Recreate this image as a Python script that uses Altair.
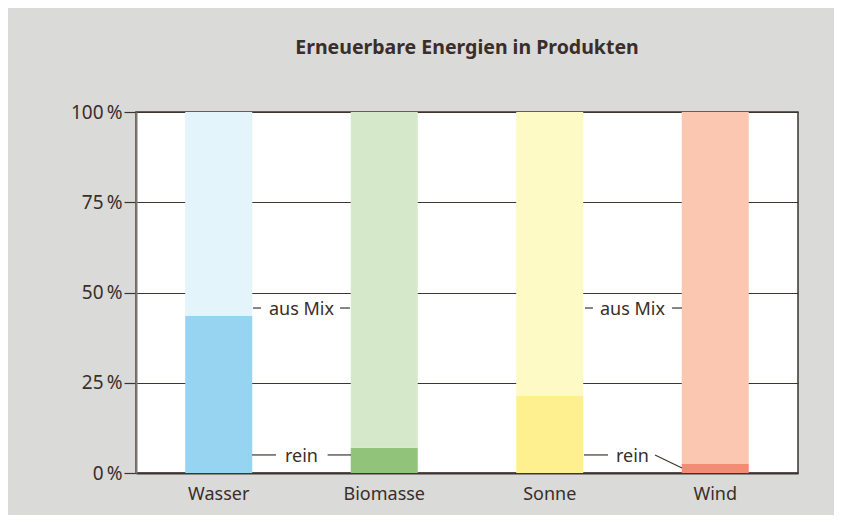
import altair as alt
import pandas as pd

categories = ["Wasser", "Biomasse", "Sonne", "Wind"]
rein = [43.5, 7.0, 21.5, 2.5]
color_rein = ["#97d4f1", "#91c47a", "#fef08e", "#f28c74"]
color_mix = ["#e4f4fb", "#d5e8c9", "#fefac6", "#fbc7b1"]

rows = []
for c, r, cr, cm in zip(categories, rein, color_rein, color_mix):
    rows.append({"cat": c, "part": "rein", "order": 0, "value": r, "color": cr})
    rows.append({"cat": c, "part": "aus Mix", "order": 1, "value": 100 - r, "color": cm})
bars_df = pd.DataFrame(rows)

# annotation labels (x in category units 0..4, y in percent)
label_text = ["aus Mix", "aus Mix", "rein", "rein"]
label_x = [1.0, 3.0, 1.0, 3.0]
label_y = [45.7, 45.7, 5.0, 5.0]
labels_df = pd.DataFrame({"t": label_text, "x": label_x, "y": label_y})

seg_x = [0.707, 1.233, 2.713, 3.239, 0.701, 1.158, 2.707, 3.136]
seg_x2 = [0.755, 1.293, 2.761, 3.299, 0.846, 1.299, 2.852, 3.299]
seg_y = [45.7, 45.7, 45.7, 45.7, 5.0, 5.0, 5.0, 5.0]
seg_y2 = [45.7, 45.7, 45.7, 45.7, 5.0, 5.0, 5.0, 1.4]
segs_df = pd.DataFrame({"x": seg_x, "x2": seg_x2, "y": seg_y, "y2": seg_y2})

FONT = "Noto Sans"
TXT = "#3a2e2a"
LINE = "#3d3530"

yscale = alt.Scale(domain=[0, 100], nice=False)
yaxis = alt.Axis(values=[0, 25, 50, 75, 100], labelExpr="datum.value + '\u2009%'",
                 grid=True, gridColor=LINE, gridWidth=1.2, tickColor=LINE, tickSize=12,
                 tickWidth=1.2, domainColor="#7d7773", domainWidth=2,
                 labelFontSize=19, labelFont=FONT, labelColor=TXT, labelPadding=2, title=None)

bars = alt.Chart(bars_df).mark_bar().encode(
    x=alt.X("cat:N", sort=categories, title=None,
            scale=alt.Scale(paddingInner=0.595, paddingOuter=0.2975),
            axis=alt.Axis(labelAngle=0, ticks=False, labelFontSize=18, labelFont=FONT,
                          labelColor=TXT, labelPadding=12, domainColor=LINE, domainWidth=2)),
    y=alt.Y("value:Q", stack="zero", scale=yscale, title=None, axis=yaxis),
    color=alt.Color("color:N", scale=None),
    order=alt.Order("order:Q"),
)

xq = alt.Scale(domain=[0, 4], nice=False, zero=False)

segs = alt.Chart(segs_df).mark_rule(color=LINE, strokeWidth=1.2).encode(
    x=alt.X("x:Q", scale=xq, axis=None),
    x2="x2:Q",
    y=alt.Y("y:Q", scale=yscale, axis=yaxis, title=None),
    y2="y2:Q",
)

labels = alt.Chart(labels_df).mark_text(font=FONT, fontSize=18, color=TXT, baseline="middle", dy=2).encode(
    x=alt.X("x:Q", scale=xq, axis=None),
    y=alt.Y("y:Q", scale=yscale, axis=yaxis, title=None),
    text="t:N",
)

chart = alt.layer(bars, segs, labels).resolve_scale(x="independent").properties(
    width=662, height=361,
    title=alt.TitleParams("Erneuerbare Energien in Produkten", font=FONT, fontSize=19.5,
                          fontWeight="bold", color=TXT, anchor="middle", offset=45),
    autosize=alt.AutoSizeParams(type="none"),
    padding={"left": 128, "top": 104, "right": 36, "bottom": 42},
    background="#dadad8",
).configure_view(stroke=LINE, strokeWidth=1.5, fill="white")

chart.save("out.html", embed_options={"renderer": "svg", "actions": False})
